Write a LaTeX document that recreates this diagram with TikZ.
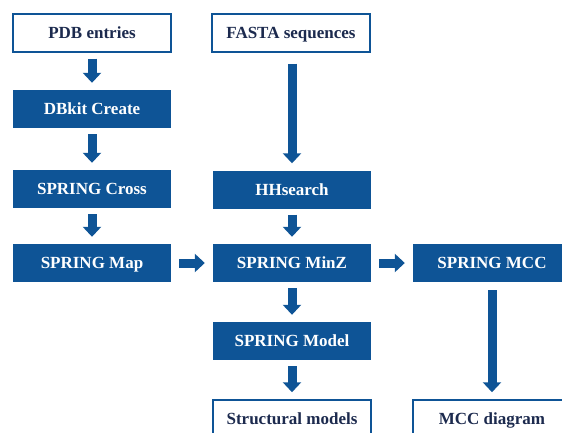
\documentclass[tikz,border=0pt]{standalone}
\usepackage{fontspec}
\setmainfont{Liberation Serif}
\usepackage{tikz}
\usetikzlibrary{arrows.meta}
\definecolor{springblue}{RGB}{14,84,150}
\definecolor{springnavy}{RGB}{28,42,78}

\begin{document}
\begin{tikzpicture}[x=1pt,y=-1pt,
	tool node/.style={draw=none,fill=springblue,text=white,minimum width=158pt,minimum height=38pt,inner sep=0pt,text height=11pt,text depth=0pt,font=\bfseries\fontsize{17}{19}\selectfont},
	data node/.style={draw=springblue,line width=1.5pt,fill=white,text=springnavy,minimum width=158pt,minimum height=38pt,inner sep=0pt,text height=11pt,text depth=0pt,font=\bfseries\fontsize{17}{19}\selectfont},
	flow/.style={springblue,line width=9pt,-{Triangle[width=18pt,length=10pt]},shorten <=6pt,shorten >=7pt}]
	\useasboundingbox (0,0) rectangle (562,433);
	
	\node[data node] (pdb) at (92,33) {PDB entries};
	\node[tool node] (dbkit) at (92,109) {DBkit Create};
	\node[tool node] (cross) at (92,189) {SPRING Cross};
	\node[tool node] (map) at (92,263) {SPRING Map};
	
	\node[data node] (fasta) at (291,33) {FASTA sequences};
	\node[tool node] (hhs) at (292,189.5) {HHsearch};
	\node[tool node] (minz) at (292,263) {SPRING MinZ};
	\node[tool node] (model) at (292,341) {SPRING Model};
	\node[data node] (structs) at (292,419) {Structural models};
	
	\node[tool node] (mcc) at (492,263) {SPRING MCC};
	\node[data node] (mccdiag) at (492,419) {MCC diagram};
	
	\draw[flow] (pdb) -- (dbkit);
	\draw[flow] (dbkit) -- (cross);
	\draw[flow] (cross) -- (map);
	\draw[flow,shorten <=11pt] (fasta.south -| hhs) -- (hhs);
	\draw[flow] (hhs) -- (minz);
	\draw[flow,shorten <=8pt,shorten >=8pt] (map) -- (minz);
	\draw[flow,shorten <=8pt,shorten >=8pt] (minz) -- (mcc);
	\draw[flow] (minz) -- (model);
	\draw[flow] (model) -- (structs);
	\draw[flow,shorten <=8pt] (mcc) -- (mccdiag);
	\end{tikzpicture}
\end{document}
